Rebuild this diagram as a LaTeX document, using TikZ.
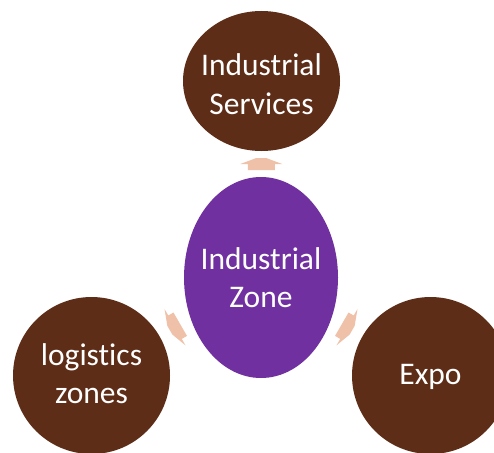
\documentclass[tikz,border=0pt]{standalone}
\usepackage{fontspec}
\setmainfont{Carlito}[Ligatures=NoCommon]
\usetikzlibrary{shapes.geometric,calc}
\definecolor{hubbrown}{HTML}{5E2D18}
\definecolor{hubpurple}{HTML}{7030A0}
\definecolor{arrowpeach}{HTML}{EFC1A8}
\begin{document}
\begin{tikzpicture}[x=1pt,y=-1pt,
    bubble/.style={ellipse,fill=hubbrown,minimum width=157pt,minimum height=157pt,inner sep=0pt},
    hub/.style={ellipse,fill=hubpurple,minimum width=154pt,minimum height=201pt,inner sep=0pt},
    caption/.style={text=white,align=center,font=\fontsize{31.5}{38.5}\selectfont},
    blockarr/.pic={\fill[arrowpeach] (-6pt,-13.5pt) -- (0pt,-13.5pt) -- (0pt,-21pt) -- (6pt,-5pt)
                   -- (6pt,5pt) -- (0pt,21pt) -- (0pt,13.5pt) -- (-6pt,13.5pt) -- cycle;}]

    % Fix the page size
    \useasboundingbox (0,0) rectangle (494,452);
    \clip (0,0) rectangle (494,452);
    % Draw the hub and the three bubbles
    \node[hub] (zone) at (261,277.5) {};
    \node[bubble,minimum height=140pt] (serv) at (261.5,81) {};
    \node[bubble] (logi) at (91.5,375.5) {};
    \node[bubble] (expo) at (430.5,375.5) {};
    % Write the texts on them
    \node[caption] (zonetxt) at (zone) {Industrial\\Zone};
    \node[caption] (servtxt) at ([yshift=-3pt]serv.center) {Industrial\\Services};
    \node[caption] (logitxt) at ([yshift=2pt]logi.center) {logistics\\zones};
    \node[caption] (expotxt) at ([yshift=-1.5pt]expo.center) {Expo};
    % Place the block arrows between them
    \coordinate (a1) at ($(zone.north)!0.5!(serv.south)$);
    \coordinate (a2) at ($(zone.210)!0.5!(logi.30)$);
    \coordinate (a3) at ($(zone.-30)!0.5!(expo.150)$);
    \pic[rotate=90] at (a1) {blockarr};
    \pic[rotate=210] at (a2) {blockarr};
    \pic[rotate=-30] at (a3) {blockarr};
  \end{tikzpicture}
\end{document}
